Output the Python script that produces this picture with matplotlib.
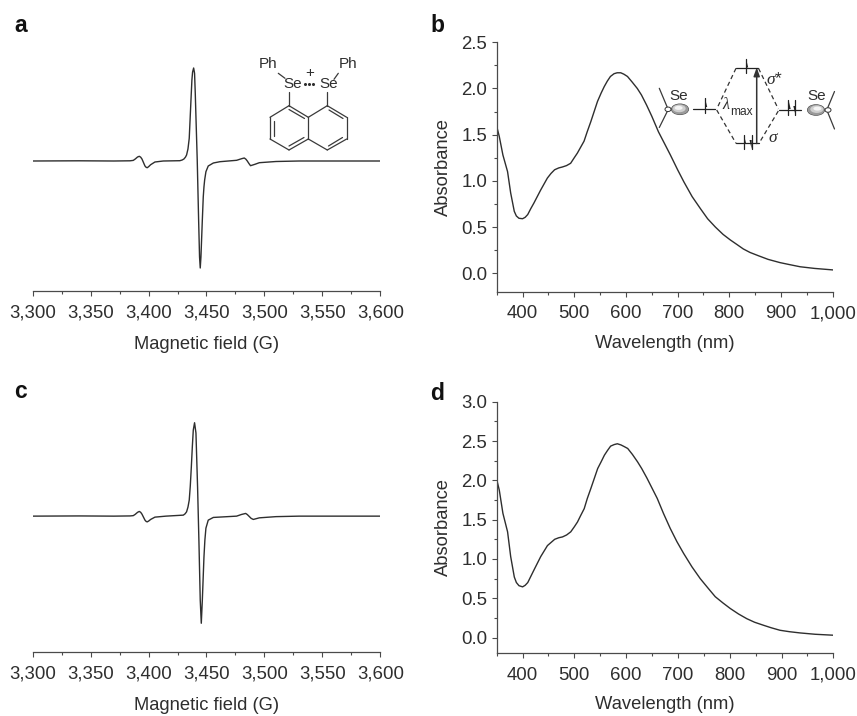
import numpy as np
import matplotlib
matplotlib.use('Agg')
import matplotlib.pyplot as plt
from matplotlib.patches import Ellipse, Polygon
from matplotlib.ticker import MultipleLocator

plt.rcParams['font.family'] = ['Liberation Sans', 'DejaVu Sans']
plt.rcParams['mathtext.fontset'] = 'custom'
plt.rcParams['mathtext.it'] = 'Liberation Serif:italic'
plt.rcParams['mathtext.rm'] = 'Liberation Sans'

W, H = 857, 716
DARK = '#2e2e2e'
AXC = '#4a4a4a'

# EPR spectrum a
field_a = [3300, 3340, 3370, 3384, 3386.8, 3388.5, 3390.5, 3392, 3393.2, 3394.3, 3395.6, 3396.9, 3398, 3398.9, 3400.2,
           3401.8, 3405.5, 3412.7, 3427,
           3429, 3430.5, 3431.8, 3432.8, 3434, 3435.1, 3435.7, 3436.6, 3437.4, 3438, 3438.9, 3439.7, 3440.3, 3440.9,
           3442, 3443.2, 3444, 3444.6, 3445.2,
           3446.4, 3447.2, 3447.8, 3448.4, 3449.5, 3451.5, 3455.9, 3461.6, 3476, 3480.3, 3482.6, 3484, 3485.2, 3486.6,
           3488, 3491.8, 3495.6, 3510, 3530, 3570, 3600]
signal_a = [0, 0.2, 0, 0.2, 0.6, 2, 4, 4.7, 3.8, 2, -1.5, -5, -6.4, -6.7, -5.5,
            -3.7, -1, 0, 0.3,
            1, 2, 3.8, 6, 12, 22.7, 38, 61, 81, 89, 93, 87.7, 68, 44,
            1, -59, -96, -107, -96,
            -59, -36, -26, -19, -10.7, -5, -2, -0.7, 0.7, 2.3, 3, 1.8, 0, -2.5,
            -4.7, -3.3, -1.7, -0.5, 0, 0, 0]

# EPR spectrum c
field_c = [3300, 3340, 3370, 3384, 3386.8, 3388.5, 3390.5, 3392, 3393.2, 3394.3, 3395.6, 3396.9, 3398, 3398.9, 3400.2,
           3401.8, 3405.5, 3415, 3430,
           3431.5, 3432.8, 3434, 3435.1, 3436, 3436.9, 3437.8, 3438.6, 3439.7, 3440.9, 3442.3, 3443.5, 3444.6, 3445.5,
           3446.4, 3447.8, 3448.6, 3449.5, 3451.5, 3455.9, 3476, 3480.3, 3483.8, 3485.2, 3486.6, 3488.5, 3490.4,
           3495.6, 3510, 3530, 3570, 3600]
signal_c = [0, 0.2, 0, 0.2, 0.5, 1.8, 3.8, 4.7, 3.8, 2, -1, -4, -5.4, -5.7, -4.8,
            -3.3, -1, 0, 1,
            2.3, 4.3, 9, 16, 30, 49, 70, 86, 93.3, 83, 29, -27, -84, -107,
            -84, -41, -24, -12, -4, -1.3, 0, 1.7, 2.7, 1.6, 0, -2.2, -3.3,
            -1.7, -0.5, 0, 0, 0]

# absorption spectrum b
wl_b = [350, 355, 362, 371, 377, 384, 388, 393, 400, 405, 410, 416, 422, 435, 448, 455, 462, 470, 477, 485, 493, 500,
        506, 512, 519, 525, 532, 545, 552, 558, 564, 570, 577, 583, 590, 596, 603, 612, 622, 630, 640, 650, 663, 675,
        686, 700, 712, 728, 744, 758, 773, 788, 802, 815, 827, 840, 856, 875, 898, 915, 937, 965, 1000]
abs_b = [1.59, 1.48, 1.28, 1.10, 0.87, 0.67, 0.62, 0.595, 0.59, 0.605, 0.635, 0.70, 0.76, 0.90, 1.03, 1.08, 1.12, 1.14,
         1.15, 1.165, 1.19, 1.25, 1.30, 1.36, 1.43, 1.53, 1.64, 1.86, 1.95, 2.02, 2.08, 2.13, 2.16, 2.17, 2.17, 2.155,
         2.13, 2.07, 2.00, 1.93, 1.82, 1.70, 1.53, 1.40, 1.28, 1.12, 0.99, 0.83, 0.70, 0.59, 0.50, 0.42, 0.36, 0.31,
         0.263, 0.225, 0.19, 0.15, 0.115, 0.095, 0.07, 0.052, 0.036]

# absorption spectrum d
wl_d = [350, 355, 362, 371, 377, 384, 388, 393, 400, 405, 410, 416, 422, 435, 448, 455, 462, 470, 477, 485, 493, 500,
        506, 512, 519, 525, 532, 545, 552, 558, 564, 570, 577, 583, 590, 596, 603, 612, 622, 630, 640, 650, 660, 672,
        685, 698, 711, 727, 743, 758, 772, 787, 801, 817, 833, 848, 865, 880, 897, 915, 936, 965, 1000]
abs_d = [2.01, 1.875, 1.58, 1.345, 1.03, 0.77, 0.70, 0.66, 0.645, 0.665, 0.70, 0.78, 0.86, 1.03, 1.17, 1.21, 1.25, 1.27,
         1.28, 1.305, 1.345, 1.41, 1.47, 1.55, 1.64, 1.77, 1.90, 2.15, 2.24, 2.32, 2.38, 2.435, 2.455, 2.465, 2.45,
         2.43, 2.405, 2.33, 2.235, 2.15, 2.03, 1.90, 1.77, 1.58, 1.39, 1.22, 1.07, 0.90, 0.75, 0.63, 0.52, 0.44, 0.37,
         0.30, 0.24, 0.195, 0.157, 0.125, 0.093, 0.075, 0.059, 0.042, 0.03]

field_ticks = [3300, 3350, 3400, 3450, 3500, 3550, 3600]
field_labels = ['3,300', '3,350', '3,400', '3,450', '3,500', '3,550', '3,600']
wl_ticks = [400, 500, 600, 700, 800, 900, 1000]
wl_labels = ['400', '500', '600', '700', '800', '900', '1,000']

fig = plt.figure(figsize=(W / 100, H / 100), dpi=100)


def make_ax(left, right, top, bottom):
    return fig.add_axes([left / W, 1 - bottom / H, (right - left) / W, (bottom - top) / H])


def style(ax):
    for s in ['top', 'right']:
        ax.spines[s].set_visible(False)
    for s in ['left', 'bottom']:
        ax.spines[s].set_linewidth(0.9)
        ax.spines[s].set_color(AXC)
    ax.tick_params(which='major', length=3.8, width=0.8, color=AXC, labelsize=13.4, labelcolor=DARK)
    ax.tick_params(which='minor', length=2.2, width=0.8, color=AXC)
    ax.tick_params(axis='x', which='major', pad=6)
    ax.tick_params(axis='y', which='major', pad=3)


def epr_panel(box, x, y, ylim):
    ax = make_ax(*box)
    ax.plot(x, y, color=DARK, lw=1.0)
    ax.set_xlim(3300, 3600)
    ax.set_ylim(*ylim)
    ax.set_xticks(field_ticks)
    ax.set_xticklabels(field_labels)
    ax.xaxis.set_minor_locator(MultipleLocator(25))
    style(ax)
    ax.spines['left'].set_visible(False)
    ax.set_yticks([])
    ax.set_xlabel('Magnetic field (G)', fontsize=13.2, color=DARK, labelpad=10)
    return ax


def abs_panel(box, x, y, ylim):
    ax = make_ax(*box)
    ax.plot(x, y, color=DARK, lw=1.0)
    ax.set_xlim(350, 1000)
    ax.set_ylim(*ylim)
    ax.set_xticks(wl_ticks)
    ax.set_xticklabels(wl_labels)
    ax.xaxis.set_minor_locator(MultipleLocator(50))
    ax.yaxis.set_major_locator(MultipleLocator(0.5))
    ax.yaxis.set_minor_locator(MultipleLocator(0.25))
    ax.yaxis.set_major_formatter('{x:.1f}')
    style(ax)
    ax.set_xlabel('Wavelength (nm)', fontsize=13.2, color=DARK, labelpad=9)
    ax.set_ylabel('Absorbance', fontsize=13.2, color=DARK, labelpad=6.5)
    return ax


epr_panel((32.7, 380.3, 43, 291), field_a, signal_a, (-130, 118))
epr_panel((32.7, 380.3, 402, 652.3), field_c, signal_c, (-136, 114))
abs_panel((496.7, 832.7, 42.3, 291.7), wl_b, abs_b, (-0.2, 2.5))
abs_panel((496.7, 833.3, 401.7, 653.3), wl_d, abs_d, (-0.2, 3.0))

# overlay in pixel coordinates for letters and the two drawings
ov = fig.add_axes([0, 0, 1, 1])
ov.set_xlim(0, W)
ov.set_ylim(H, 0)
ov.axis('off')
ov.patch.set_alpha(0)

for letter, lx, ly in [('a', 14, 26), ('b', 430, 25), ('c', 14, 392), ('d', 430, 393)]:
    ov.text(lx, ly, letter, fontsize=16.5, fontweight='bold', color='#111111', va='center', ha='left')


def seg(x0, y0, x1, y1, **kw):
    kw.setdefault('color', '#3a3a3a')
    kw.setdefault('lw', 0.9)
    ov.plot([x0, x1], [y0, y1], solid_capstyle='round', **kw)


# Se-Se naphthalene cation
atoms = {'c1': (289, 105.7), 'c2': (270, 117.3), 'c3': (270, 139), 'c4': (289, 150), 'c4a': (308.3, 139),
         'c5': (327.3, 150), 'c6': (346.7, 139), 'c7': (346.7, 117.3), 'c8': (327.3, 105.7), 'c8a': (308.3, 117.3)}
for a, b in [('c1', 'c2'), ('c2', 'c3'), ('c3', 'c4'), ('c4', 'c4a'), ('c4a', 'c8a'), ('c8a', 'c1'),
             ('c4a', 'c5'), ('c5', 'c6'), ('c6', 'c7'), ('c7', 'c8'), ('c8', 'c8a')]:
    seg(*atoms[a], *atoms[b])
seg(289, 109.5, 304.5, 118.5)
seg(274.5, 121, 274.5, 136)
seg(289, 146, 304, 137.5)
seg(329, 110, 343, 118.5)
seg(328.5, 146, 342.5, 137.5)
seg(289, 91.7, 289, 105.7)
seg(327.3, 91.7, 327.3, 105.7)
seg(278.3, 73.3, 285, 78.3)
seg(338.3, 73.3, 334, 79.3)
chem_fs = 11
ov.text(268.3, 64, 'Ph', fontsize=chem_fs, color=DARK, ha='center', va='center')
ov.text(348.3, 64, 'Ph', fontsize=chem_fs, color=DARK, ha='center', va='center')
ov.text(292.7, 84, 'Se', fontsize=chem_fs, color=DARK, ha='center', va='center')
ov.text(328.3, 84, 'Se', fontsize=chem_fs, color=DARK, ha='center', va='center')
ov.text(309.3, 72.5, '+', fontsize=11, color=DARK, ha='center', va='center')
for dx in [305.5, 309.3, 313]:
    ov.plot([dx], [84], 'o', ms=1.2, color=DARK)


# orbital diagram
def half_arrow(x, y_low, y_top, up=True):
    seg(x, y_low, x, y_top, color='#222222', lw=0.9)
    if up:
        ov.add_patch(Polygon([(x, y_top), (x + 2.2, y_top + 9), (x, y_top + 9)], fc='#222222', ec='none'))
    else:
        ov.add_patch(Polygon([(x, y_low), (x - 2.2, y_low - 9), (x, y_low - 9)], fc='#222222', ec='none'))


def lobe(cx, cy, side):
    # side is -1 when the small lobe sits on the left
    for w, h, col, off in [(18, 11.5, '#444444', 0), (17, 10.5, '#9a9a9a', 0), (13, 7.5, '#cfcfcf', 0.8),
                           (8, 4, '#f5f5f5', 1.4)]:
        ov.add_patch(Ellipse((cx + off * side, cy - off), w, h, fc=col, ec='none', zorder=3))
    ov.add_patch(Ellipse((cx + side * 12, cy), 6, 4.5, fc='white', ec='#333333', lw=0.7, zorder=3))


lobe(680, 109.3, -1)
lobe(816, 110, 1)
seg(659.3, 88.3, 668, 109)
seg(668, 110, 659.3, 127.5)
seg(834.5, 91.5, 827, 109.5)
seg(827, 110.5, 834.5, 129)
ov.text(678.3, 96, 'Se', fontsize=chem_fs, color=DARK, ha='center', va='center')
ov.text(816.7, 96, 'Se', fontsize=chem_fs, color=DARK, ha='center', va='center')

seg(693.3, 109, 715, 109, color='#222222')
half_arrow(705, 113, 98)
seg(779.5, 110, 801.5, 110, color='#222222')
half_arrow(788.5, 115, 100)
half_arrow(795.5, 115, 100, up=False)
seg(736, 68.3, 758.5, 68.3, color='#222222')
half_arrow(746, 73, 58.5)
seg(736, 143.3, 759, 143.3, color='#222222')
half_arrow(744, 149, 135)
half_arrow(751.7, 149, 135, up=False)

for x0, y0, x1, y1 in [(736, 68.3, 716.7, 109), (716.7, 110, 736, 143.3), (758.5, 68.3, 778.3, 109),
                       (778.3, 111, 759, 143.3)]:
    ov.plot([x0, x1], [y0, y1], color='#333333', lw=0.9, dashes=(3.5, 2.5))

ov.annotate('', xy=(756.7, 67.5), xytext=(756.7, 143.5),
            arrowprops=dict(arrowstyle='-|>,head_width=0.18,head_length=0.5', color='#333333', lw=1.1,
                            shrinkA=0, shrinkB=0))
ov.text(726.5, 104, r'$\lambda$', fontsize=11.5, color=DARK, ha='center', va='center')
ov.text(741.5, 112, 'max', fontsize=8.6, color=DARK, ha='center', va='center')
ov.text(775, 78.5, r'$\sigma$*', fontsize=12.5, color=DARK, ha='center', va='center')
ov.text(773.3, 137.3, r'$\sigma$', fontsize=12.5, color=DARK, ha='center', va='center')

fig.savefig('out.png', dpi=100)
